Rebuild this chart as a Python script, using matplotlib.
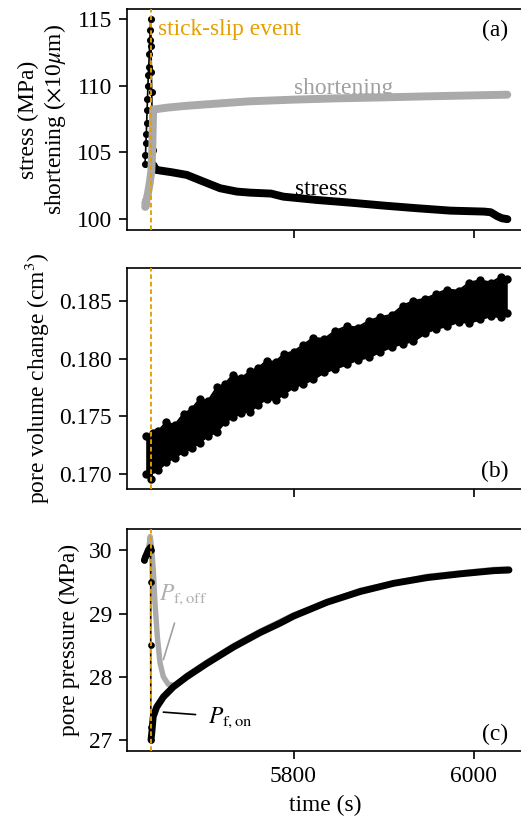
import matplotlib
matplotlib.use('Agg')
import matplotlib.pyplot as plt

plt.rcParams['font.family'] = 'serif'
plt.rcParams['font.serif'] = ['Liberation Serif', 'DejaVu Serif']
plt.rcParams['mathtext.fontset'] = 'stix'
plt.rcParams['font.size'] = 11.3
plt.rcParams['xtick.major.size'] = 3.8
plt.rcParams['ytick.major.size'] = 3.8

ORANGE = '#E69F00'
GREY = '#AAAAAA'

event_t = 5641.6

# (a) stress: spike before the event (sparse points) and dense record after it
stress_spike_t = [5635.2, 5635.8, 5636.3, 5636.7, 5637.1, 5637.6, 5638.0, 5638.5, 5638.9, 5639.4,
                  5640.0, 5640.6, 5641.1, 5641.6, 5642.0, 5642.3, 5642.7, 5643.0, 5643.3, 5643.8, 5644.4]
stress_spike = [104.1, 104.8, 105.7, 106.4, 107.2, 108.2, 109.0, 110.0, 110.8, 111.4,
                112.4, 113.4, 114.2, 115.0, 113.0, 111.0, 109.5, 108.2, 106.8, 105.2, 104.05]
stress_t = [5644.4, 5646.5, 5648.2, 5665, 5681.6, 5700, 5718.6, 5737.1, 5751.9, 5775, 5788.6,
            5826, 5863, 5899.7, 5937.1, 5974.1, 6011.1, 6018.6, 6026, 6031, 6037.1]
stress = [104.05, 103.8, 103.67, 103.5, 103.3, 102.8, 102.3, 102.05, 101.97, 101.9, 101.67,
          101.42, 101.22, 101.0, 100.8, 100.62, 100.55, 100.5, 100.2, 100.05, 99.98]

# (a) shortening (x10 um)
short_t = [5635.5, 5636.0, 5636.4, 5636.8, 5638.5, 5640.5, 5642.3, 5643.3, 5643.8, 5644.3, 5646,
           5660, 5680, 5700, 5750, 5800, 5850, 5900, 5950, 6000, 6037]
shortening = [100.9, 101.3, 101.0, 101.4, 101.9, 102.7, 103.6, 105.2, 106.7, 108.2, 108.22,
              108.35, 108.48, 108.58, 108.82, 108.95, 109.05, 109.12, 109.2, 109.27, 109.32]

# (b) pore volume change, noisy band read as upper / lower envelope
vol_t = [5636, 5641.6, 5644.4, 5650, 5659, 5668, 5678, 5687, 5696, 5705,
         5715, 5724, 5733, 5742, 5752, 5761, 5770, 5780, 5789, 5800,
         5811, 5822, 5834, 5846, 5859, 5871, 5884, 5896, 5909, 5921,
         5933, 5946, 5958, 5970, 5983, 5995, 6007, 6019, 6030, 6037]
vol_upper = [0.1733, 0.1728, 0.1735, 0.1737, 0.1745, 0.1742, 0.1752, 0.1756, 0.1765, 0.1763,
             0.1775, 0.1778, 0.1786, 0.1783, 0.1789, 0.1792, 0.1798, 0.1797, 0.1804, 0.1806,
             0.1812, 0.1818, 0.1817, 0.1824, 0.1828, 0.1827, 0.1833, 0.1836, 0.1838, 0.1846,
             0.1850, 0.1852, 0.1856, 0.1860, 0.1859, 0.1866, 0.1868, 0.1866, 0.1871, 0.1869]
vol_lower = [0.1700, 0.1695, 0.1704, 0.1703, 0.1710, 0.1714, 0.1719, 0.1722, 0.1727, 0.1733,
             0.1736, 0.1745, 0.1749, 0.1753, 0.1754, 0.1760, 0.1765, 0.1764, 0.1769, 0.1775,
             0.1778, 0.1782, 0.1788, 0.1791, 0.1795, 0.1799, 0.1801, 0.1806, 0.1810, 0.1813,
             0.1815, 0.1822, 0.1826, 0.1828, 0.1832, 0.1831, 0.1834, 0.1837, 0.1836, 0.1840]

# (c) pore pressure
pon_spike_t = [5634.3, 5635.5, 5637.0, 5638.5, 5640.0, 5641.0, 5641.4, 5641.6, 5641.6, 5641.7, 5641.8]
pon_spike = [29.85, 29.9, 29.95, 30.0, 30.03, 30.05, 30.0, 29.5, 28.5, 27.2, 27.0]
pon_t = [5641.9, 5642.7, 5644.4, 5648.2, 5655.6, 5666.7, 5681.6, 5703.8, 5733.3, 5763, 5785.2,
         5800, 5837.1, 5874.1, 5911.1, 5948.2, 5985.2, 6022.2, 6038.9]
pon = [27.0, 27.1, 27.37, 27.52, 27.68, 27.84, 28.0, 28.21, 28.47, 28.7, 28.85,
       28.96, 29.18, 29.35, 29.48, 29.57, 29.63, 29.68, 29.69]
poff_t = [5636, 5638.5, 5640, 5641, 5642.5, 5644.4, 5646.3, 5648.9, 5651.9, 5655.6, 5661.1,
          5668.6, 5681.6, 5703.8, 5733.3, 5763, 5800, 5874.1, 5948.2, 6022.2, 6038.9]
poff = [29.9, 30.0, 30.1, 30.22, 30.05, 29.7, 29.17, 28.64, 28.22, 28.0, 27.88,
        27.86, 28.02, 28.23, 28.49, 28.72, 28.98, 29.37, 29.59, 29.7, 29.71]

fig = plt.figure(figsize=(521 / 150, 829 / 150), dpi=150)
ax1 = fig.add_axes([0.2443, 0.7226, 0.7605, 0.2662])
ax2 = fig.add_axes([0.2443, 0.4101, 0.7605, 0.2662], sharex=ax1)
ax3 = fig.add_axes([0.2443, 0.0945, 0.7605, 0.2674], sharex=ax1)

thick = dict(solid_capstyle='round', solid_joinstyle='round')

# --- (a)
ax1.plot(stress_spike_t, stress_spike, '-o', color='k', lw=0.8, ms=2.4, zorder=2)
ax1.plot(stress_t, stress, '-', color='k', lw=3.8, zorder=2, **thick)
ax1.plot(short_t, shortening, '-', color=GREY, lw=3.8, zorder=2.5, **thick)
ax1.text(5800, 109.35, 'shortening', color='#A0A0A0', va='baseline', zorder=1)
ax1.text(5801.9, 101.8, 'stress', color='k', va='baseline', zorder=1)
ax1.text(5649.3, 114.2, 'stick-slip event', color=ORANGE, va='center')
ax1.text(0.962, 0.95, '(a)', transform=ax1.transAxes, ha='right', va='top')
ax1.set_ylim(99.17, 115.73)
ax1.set_yticks([100, 105, 110, 115])
ax1.set_ylabel('stress (MPa)\nshortening ($\\times$10$\\mu$m)')

# --- (b)
ax2.fill_between(vol_t, vol_lower, vol_upper, color='k', lw=0)
ax2.plot(vol_t, vol_upper, '-o', color='k', lw=1, ms=3.0)
ax2.plot(vol_t, vol_lower, '-o', color='k', lw=1, ms=3.0)
ax2.text(0.962, 0.03, '(b)', transform=ax2.transAxes, ha='right', va='bottom')
ax2.set_ylim(0.16867, 0.18784)
ax2.set_yticks([0.170, 0.175, 0.180, 0.185])
ax2.set_yticklabels(['0.170', '0.175', '0.180', '0.185'])
ax2.set_ylabel('pore volume change (cm$^3$)')

# --- (c)
ax3.plot(poff_t, poff, '-', color=GREY, lw=2.6, zorder=1.5, **thick)
ax3.plot(pon_spike_t, pon_spike, '-o', color='k', lw=0.8, ms=2.2, zorder=2)
ax3.plot(pon_spike_t[:7], pon_spike[:7], '-', color='k', lw=3.0, zorder=2, **thick)
ax3.plot(pon_t, pon, '-', color='k', lw=3.3, zorder=2, **thick)
ax3.annotate('$P_{\\rm f,off}$', xy=(5655.6, 28.27), xytext=(5650.8, 29.3), color='#B0B0B0',
             va='center', ha='left',
             arrowprops=dict(arrowstyle='-', color='#A0A0A0', lw=0.8, shrinkA=6, shrinkB=0))
ax3.annotate('$P_{\\rm f,on}$', xy=(5655.6, 27.44), xytext=(5705.2, 27.36), color='k',
             va='center', ha='left',
             arrowprops=dict(arrowstyle='-', color='k', lw=0.8, shrinkA=4, shrinkB=0))
ax3.text(0.962, 0.026, '(c)', transform=ax3.transAxes, ha='right', va='bottom')
ax3.set_ylim(26.83, 30.34)
ax3.set_yticks([27, 28, 29, 30])
ax3.set_ylabel('pore pressure (MPa)')
ax3.set_xlabel('time (s)')

for ax in (ax1, ax2, ax3):
    ax.axvline(event_t, color=ORANGE, lw=0.9, dashes=(2.5, 1.5), zorder=5)

ax1.set_xlim(5615.6, 6055)
ax1.set_xticks([5800, 6000])
ax1.tick_params(labelbottom=False)
ax2.tick_params(labelbottom=False)

fig.savefig('out.png', dpi=150)
plt.close(fig)
